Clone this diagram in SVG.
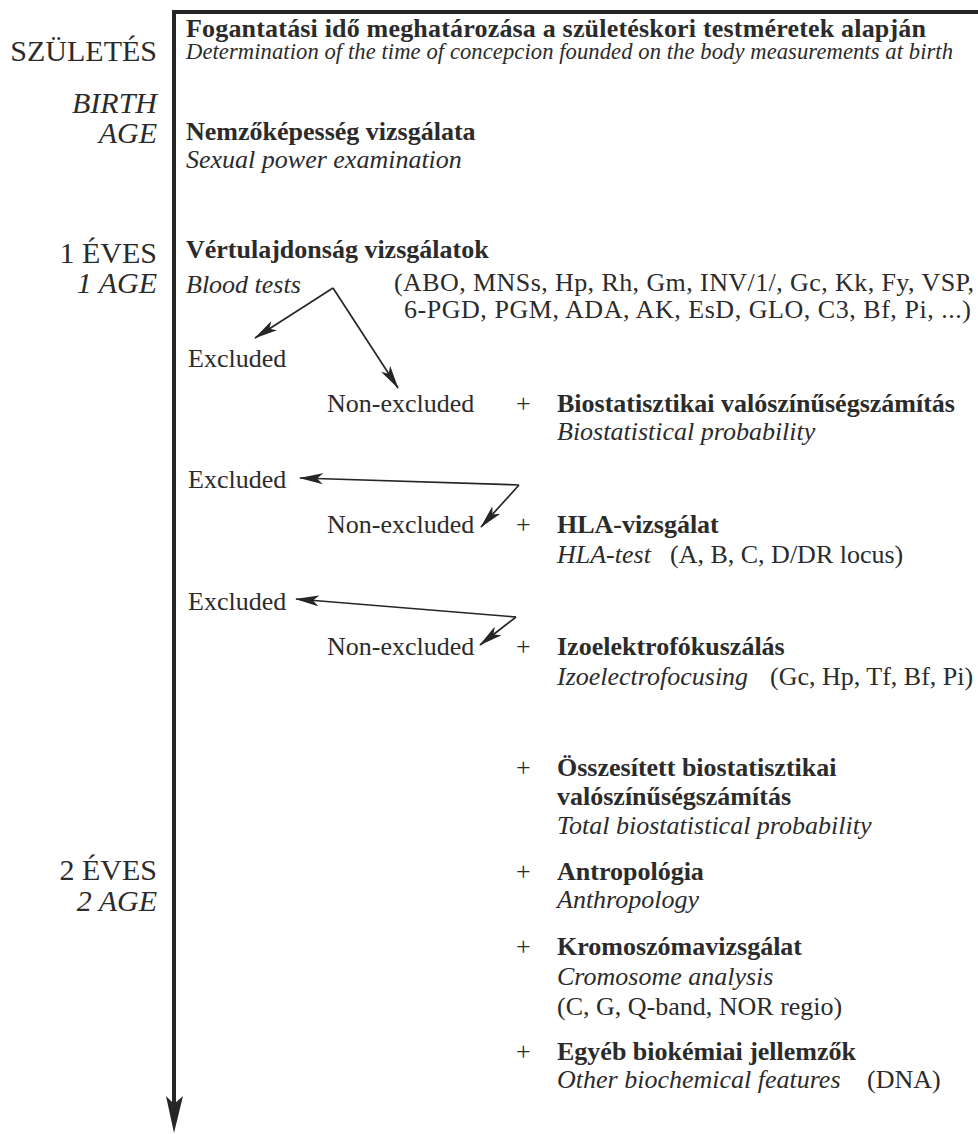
<svg xmlns="http://www.w3.org/2000/svg" width="978" height="1134" viewBox="0 0 978 1134">
<style>
text{font-family:"Liberation Serif","Times New Roman",serif;fill:#2b2b2b;font-size:26px}
.b{font-weight:bold}
.i{font-style:italic}
.lbl{font-size:30px;text-anchor:end}
.sm{font-size:22.6px}
.ln{stroke:#262626;stroke-width:1.7;fill:none;marker-end:url(#ah)}
</style>
<defs>
<marker id="ah" markerUnits="userSpaceOnUse" viewBox="0 0 24 11" markerWidth="24" markerHeight="11" refX="23" refY="5.5" orient="auto">
<path d="M0,0 L24,5.5 L0,11 L6,5.5 Z" fill="#262626"/>
</marker>
</defs>
<rect width="978" height="1134" fill="#ffffff"/>
<g id="axis">
<line x1="172" y1="12" x2="978" y2="12" stroke="#262626" stroke-width="4"/>
<line x1="174" y1="10" x2="174" y2="1104" stroke="#262626" stroke-width="4"/>
<polygon points="166,1096 174,1104 183,1096 174,1133" fill="#262626"/>
</g>
<g id="time-labels">
<text class="lbl" x="157" y="61">SZÜLETÉS</text>
<text class="lbl i" x="157" y="113">BIRTH</text>
<text class="lbl i" x="157" y="143">AGE</text>
<text class="lbl" x="157" y="263">1 ÉVES</text>
<text class="lbl i" x="157" y="293">1 AGE</text>
<text class="lbl" x="157" y="880">2 ÉVES</text>
<text class="lbl i" x="157" y="911">2 AGE</text>
</g>
<g id="node-fogantatas">
<text class="b" x="186" y="37" textLength="740" lengthAdjust="spacing">Fogantatási idő meghatározása a születéskori testméretek alapján</text>
<text class="i sm" x="186" y="59" textLength="767" lengthAdjust="spacing">Determination of the time of concepcion founded on the body measurements at birth</text>
</g>
<g id="node-nemzokepesseg">
<text class="b" x="186" y="140">Nemzőképesség vizsgálata</text>
<text class="i" x="186" y="168">Sexual power examination</text>
</g>
<g id="node-vertulajdonsag">
<text class="b" x="186" y="258">Vértulajdonság vizsgálatok</text>
<text class="i" x="186" y="293">Blood tests</text>
<text x="394" y="291" textLength="580" lengthAdjust="spacing">(ABO, MNSs, Hp, Rh, Gm, INV/1/, Gc, Kk, Fy, VSP,</text>
<text x="404" y="318" textLength="567" lengthAdjust="spacing">6-PGD, PGM, ADA, AK, EsD, GLO, C3, Bf, Pi, ...)</text>
</g>
<g id="node-excluded-1"><text x="188" y="367">Excluded</text></g>
<g id="node-nonexcluded-1"><text x="327" y="412">Non-excluded</text></g>
<g id="node-biostat">
<text x="516" y="412">+</text>
<text class="b" x="557" y="412">Biostatisztikai valószínűségszámítás</text>
<text class="i" x="557" y="440">Biostatistical probability</text>
</g>
<g id="node-excluded-2"><text x="188" y="488">Excluded</text></g>
<g id="node-nonexcluded-2"><text x="327" y="533">Non-excluded</text></g>
<g id="node-hla">
<text x="516" y="533">+</text>
<text class="b" x="557" y="533">HLA-vizsgálat</text>
<text class="i" x="557" y="563">HLA-test</text>
<text x="670" y="563">(A, B, C, D/DR locus)</text>
</g>
<g id="node-excluded-3"><text x="188" y="610">Excluded</text></g>
<g id="node-nonexcluded-3"><text x="327" y="655">Non-excluded</text></g>
<g id="node-izo">
<text x="516" y="655">+</text>
<text class="b" x="557" y="655">Izoelektrofókuszálás</text>
<text class="i" x="557" y="685">Izoelectrofocusing</text>
<text x="770" y="685">(Gc, Hp, Tf, Bf, Pi)</text>
</g>
<g id="node-osszesitett">
<text x="516" y="776">+</text>
<text class="b" x="557" y="776">Összesített biostatisztikai</text>
<text class="b" x="557" y="805">valószínűségszámítás</text>
<text class="i" x="557" y="834">Total biostatistical probability</text>
</g>
<g id="node-antropologia">
<text x="516" y="880">+</text>
<text class="b" x="557" y="880">Antropológia</text>
<text class="i" x="557" y="908">Anthropology</text>
</g>
<g id="node-kromoszoma">
<text x="516" y="955">+</text>
<text class="b" x="557" y="955">Kromoszómavizsgálat</text>
<text class="i" x="557" y="985">Cromosome analysis</text>
<text x="557" y="1015">(C, G, Q-band, NOR regio)</text>
</g>
<g id="node-egyeb">
<text x="516" y="1060">+</text>
<text class="b" x="557" y="1060">Egyéb biokémiai jellemzők</text>
<text class="i" x="557" y="1088">Other biochemical features</text>
<text x="867" y="1088">(DNA)</text>
</g>
<g id="connectors">
<polyline class="ln" points="333,288 255,338"/>
<polyline class="ln" points="333,288 398,388"/>
<polyline class="ln" points="519,485 300,478"/>
<polyline class="ln" points="519,485 481,527"/>
<polyline class="ln" points="516,617 296,599"/>
<polyline class="ln" points="516,617 480,645"/>
</g>
</svg>
